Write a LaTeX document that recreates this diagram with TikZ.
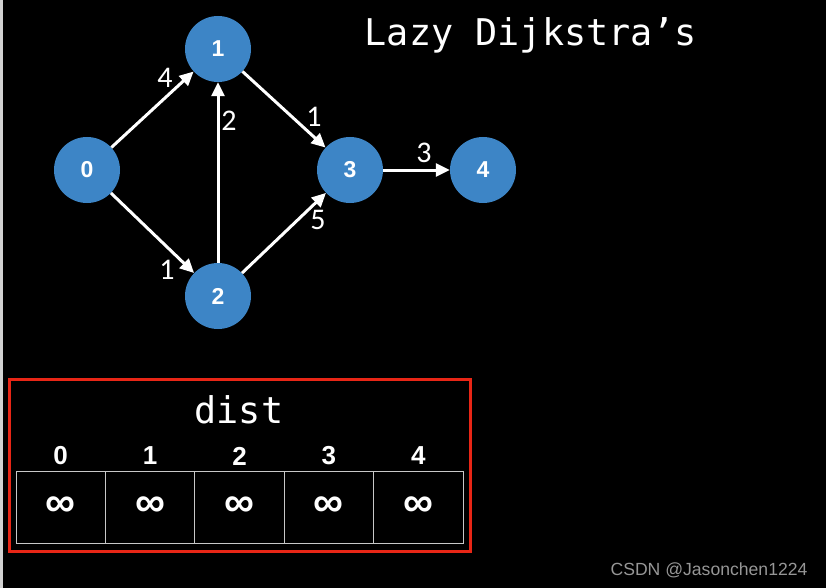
\documentclass[tikz,border=0pt]{standalone}
\usepackage{fontspec}
\setmainfont{Liberation Sans}
\newfontfamily\monof{DejaVu Sans Mono}
\newfontfamily\lblf{Carlito}
\usetikzlibrary{arrows.meta}
\definecolor{nodeblue}{RGB}{61,133,198}
\definecolor{boxred}{RGB}{232,38,22}
\definecolor{cellgray}{RGB}{200,200,200}
\definecolor{wmgray}{RGB}{150,150,150}
\begin{document}
\begin{tikzpicture}[x=1pt,y=-1pt,
  vert/.style={circle,fill=nodeblue,minimum size=66pt,inner sep=0pt,text=white,font=\fontsize{23}{23}\selectfont\bfseries},
  edge/.style={white,line width=3pt,-{Triangle[length=14pt,width=13pt]}},
  wlabel/.style={text=white,font=\lblf\fontsize{30}{30}\selectfont,inner sep=0pt},
  head/.style={text=white,font=\fontsize{26}{26}\selectfont\bfseries,inner sep=0pt},
  cell/.style={draw=cellgray,line width=1pt,minimum width=89.4pt,minimum height=72pt,inner sep=0pt,text=white,font=\fontsize{42}{42}\selectfont\bfseries}]
\useasboundingbox (0,0) rectangle (826,588);
\fill[black] (0,0) rectangle (826,588);
\fill[gray!35] (0,0) rectangle (3,588);
% nodes
\node[vert] (n0) at (87,170) {0};
\node[vert] (n1) at (218,49) {1};
\node[vert] (n2) at (218,296) {2};
\node[vert] (n3) at (350,170) {3};
\node[vert] (n4) at (483,170) {4};
% edges
\draw[edge] (n0) -- (n1);
\draw[edge] (n0) -- (n2);
\draw[edge] (n2) -- (n1);
\draw[edge] (n1) -- (n3);
\draw[edge] (n2) -- (n3);
\draw[edge] (n3) -- (n4);
% weights
\node[wlabel] (w01) at (165,78) {4};
\node[wlabel] (w21) at (229,121) {2};
\node[wlabel] (w13) at (314,117) {1};
\node[wlabel] (w34) at (424,153) {3};
\node[wlabel] (w23) at (318,220) {5};
\node[wlabel] (w02) at (167,270) {1};
% title
\node[text=white,font=\monof\fontsize{36.8}{36.8}\selectfont,inner sep=0pt] (title) at (531,35) {Lazy Dijkstra’s};
% dist box
\draw[boxred,line width=3pt] (9.5,379) rectangle (470.5,551);
\node[text=white,font=\monof\fontsize{36.8}{36.8}\selectfont,inner sep=0pt] (dist) at (239,410) {dist};
\foreach \i/\cx in {0/60.7,1/150.1,2/239.5,3/328.9,4/418.3}{
  \node[head] (h\i) at (\cx,456) {\i};
  \node[cell] (c\i) at (\cx,507) {∞};
}
% watermark
\node[text=wmgray,font=\fontsize{17.6}{17.6}\selectfont,inner sep=0pt] (wm) at (709,570) {CSDN @Jasonchen1224};
\end{tikzpicture}
\end{document}
